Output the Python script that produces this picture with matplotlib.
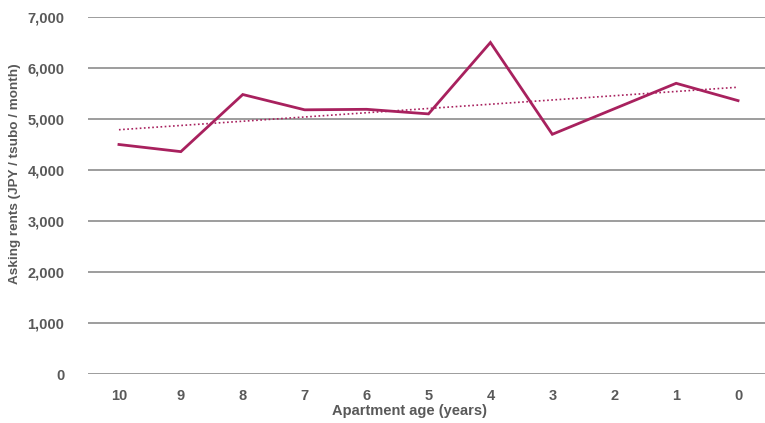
import matplotlib
matplotlib.use('Agg')
import matplotlib.pyplot as plt
from matplotlib.ticker import FuncFormatter
import numpy as np

ages = ['10', '9', '8', '7', '6', '5', '4', '3', '2', '1', '0']
rents = [4500, 4360, 5480, 5180, 5190, 5100, 6500, 4700, 5200, 5700, 5360]

line_color = '#a8215e'
text_color = '#595959'
grid_color = '#8c8c8c'

plt.rcParams['font.family'] = ['Liberation Sans', 'DejaVu Sans']

fig = plt.figure(figsize=(7.65, 4.23), dpi=100)
ax = fig.add_axes([88 / 765, 1 - 374 / 423, 681 / 765, (374 - 17) / 423])

x = np.arange(len(ages))
ax.plot(x, rents, color=line_color, lw=2.0, solid_joinstyle='miter', zorder=3)

# linear trend over the series
slope, intercept = np.polyfit(x, rents, 1)
ax.plot(x, slope * x + intercept, color=line_color, lw=1.2, ls=(0, (1, 1.5)), zorder=3)

ax.set_xlim(-0.5, len(ages) - 0.5)
ax.set_ylim(0, 7000)
ax.set_yticks(np.arange(0, 7001, 1000))
ax.yaxis.set_major_formatter(FuncFormatter(lambda v, p: f'{int(v):,}'))
ax.set_xticks(x)
ax.set_xticklabels(ages)

ax.grid(axis='y', color=grid_color, lw=1.2)
ax.set_axisbelow(True)
for s in ax.spines.values():
    s.set_visible(False)
ax.tick_params(length=0, labelsize=10.5, labelcolor=text_color)
ax.tick_params(axis='x', pad=11)
ax.tick_params(axis='y', pad=17)
for lab in ax.get_xticklabels() + ax.get_yticklabels():
    lab.set_fontweight('bold')

fig.text(409 / 765, 1 - 411 / 423, 'Apartment age (years)', ha='center', va='center',
         fontsize=10.5, fontweight='bold', color=text_color)
fig.text(15 / 765, 1 - 174 / 423, 'Asking rents (JPY / tsubo / month)', rotation=90,
         ha='center', va='center', fontsize=9.7, fontweight='bold', color=text_color)

fig.savefig('out.png', dpi=100)
